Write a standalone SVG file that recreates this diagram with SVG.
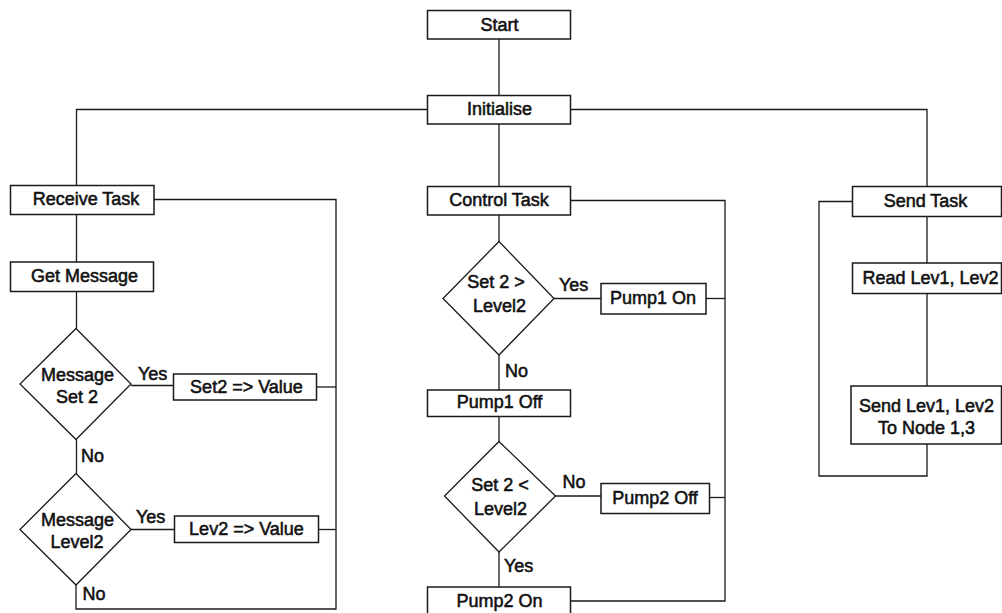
<svg xmlns="http://www.w3.org/2000/svg" width="1002" height="613" viewBox="0 0 1002 613">
  <style>
    .box { fill: #ffffff; stroke: #1a1a1a; stroke-width: 1.5; }
    .dec { fill: #ffffff; stroke: #1a1a1a; stroke-width: 1.3; }
    .wire { fill: none; stroke: #1a1a1a; stroke-width: 1.3; }
    text { font-family: "Liberation Sans", Arial, sans-serif; font-size: 18px; fill: #111111; stroke: #111111; stroke-width: 0.55; }
    .c { text-anchor: middle; }
  </style>
  <rect width="1002" height="613" fill="#ffffff"/>

  <!-- connectors -->
  <g id="connectors" class="wire">
    <!-- main trunk -->
    <path d="M499,39 V95.5"/>
    <path d="M499,124 V186"/>
    <path d="M427.5,109.5 H76.5 V186"/>
    <path d="M570.5,109.5 H927 V186.5"/>
    <!-- receive task -->
    <path d="M154,199.5 H336 V609 H76 V585"/>
    <path d="M76.5,214.5 V262"/>
    <path d="M76.5,291.5 V328.5"/>
    <path d="M131,385.5 H173.5"/>
    <path d="M316.5,387 H336"/>
    <path d="M76.5,439.5 V473.5"/>
    <path d="M131,529.5 H174.5"/>
    <path d="M318.5,529.5 H336"/>
    <!-- control task -->
    <path d="M570.5,200.5 H725 V601 H570.5"/>
    <path d="M499,215 V241.5"/>
    <path d="M554,298.5 H601"/>
    <path d="M706,298.5 H725"/>
    <path d="M499,355 V390"/>
    <path d="M499,416.5 V441.5"/>
    <path d="M555.5,496 H601"/>
    <path d="M709.5,497.5 H725"/>
    <path d="M499,552 V587"/>
    <!-- send task -->
    <path d="M852.5,201.5 H819 V476 H927 V444"/>
    <path d="M927,216.5 V263"/>
    <path d="M927,293.5 V386"/>
  </g>

  <!-- main trunk nodes -->
  <g id="start">
    <rect class="box" x="427.5" y="10.5" width="143" height="28.5"/>
    <text class="c" x="499.5" y="30.5">Start</text>
  </g>
  <g id="initialise">
    <rect class="box" x="427.5" y="95.5" width="143" height="28.5"/>
    <text class="c" x="499.5" y="115">Initialise</text>
  </g>

  <!-- receive task column -->
  <g id="receive-task">
    <rect class="box" x="10.5" y="185.5" width="143.5" height="29"/>
    <text class="c" x="86" y="205">Receive Task</text>
  </g>
  <g id="get-message">
    <rect class="box" x="10.5" y="262" width="143" height="29.5"/>
    <text class="c" x="84.5" y="281.5">Get Message</text>
  </g>
  <g id="msg-set2">
    <polygon class="dec" points="76,328.5 131,384 76,439.5 20,384"/>
    <text class="c" x="77.5" y="380.5">Message</text>
    <text class="c" x="77" y="402.5">Set 2</text>
  </g>
  <text x="138" y="380">Yes</text>
  <g id="set2-value">
    <rect class="box" x="173.5" y="374" width="143" height="26"/>
    <text class="c" x="246.5" y="393">Set2 =&gt; Value</text>
  </g>
  <text x="81" y="462">No</text>
  <g id="msg-level2">
    <polygon class="dec" points="76,473.5 131,529.5 76,585 20,529.5"/>
    <text class="c" x="77.5" y="526">Message</text>
    <text class="c" x="77" y="548">Level2</text>
  </g>
  <text x="136" y="523">Yes</text>
  <g id="lev2-value">
    <rect class="box" x="174.5" y="516" width="144" height="26.5"/>
    <text class="c" x="246.5" y="534.5">Lev2 =&gt; Value</text>
  </g>
  <text x="82.5" y="599.5">No</text>

  <!-- control task column -->
  <g id="control-task">
    <rect class="box" x="427.5" y="186.5" width="143" height="28.5"/>
    <text class="c" x="499" y="205.5">Control Task</text>
  </g>
  <g id="set2-gt-level2">
    <polygon class="dec" points="499,241.5 554,298.5 499,355 443,298.5"/>
    <text class="c" x="496" y="287.5">Set 2 &gt;</text>
    <text class="c" x="499.5" y="311.5">Level2</text>
  </g>
  <text x="559" y="290.5">Yes</text>
  <g id="pump1-on">
    <rect class="box" x="601" y="283.5" width="105" height="30.5"/>
    <text class="c" x="653" y="303.5">Pump1 On</text>
  </g>
  <text x="505" y="376.5">No</text>
  <g id="pump1-off">
    <rect class="box" x="427.5" y="390" width="143" height="26.5"/>
    <text class="c" x="499.5" y="407.5">Pump1 Off</text>
  </g>
  <g id="set2-lt-level2">
    <polygon class="dec" points="499,441.5 555.5,496 499,552 444.5,496"/>
    <text class="c" x="500" y="490.5">Set 2 &lt;</text>
    <text class="c" x="500.5" y="514.5">Level2</text>
  </g>
  <text x="562.5" y="487.5">No</text>
  <g id="pump2-off">
    <rect class="box" x="601" y="483.5" width="108.5" height="30"/>
    <text class="c" x="655" y="503.5">Pump2 Off</text>
  </g>
  <text x="504" y="571.5">Yes</text>
  <g id="pump2-on">
    <rect class="box" x="427.5" y="587" width="143" height="29"/>
    <text class="c" x="499.5" y="606.5">Pump2 On</text>
  </g>

  <!-- send task column -->
  <g id="send-task">
    <rect class="box" x="852.5" y="186.5" width="149" height="30"/>
    <text class="c" x="925.5" y="206.5">Send Task</text>
  </g>
  <g id="read-levels">
    <rect class="box" x="852.5" y="263" width="149" height="30.5"/>
    <text class="c" x="930.5" y="284">Read Lev1, Lev2</text>
  </g>
  <g id="send-levels">
    <rect class="box" x="851" y="386" width="150.5" height="58"/>
    <text class="c" x="926.5" y="411.5">Send Lev1, Lev2</text>
    <text class="c" x="926.5" y="433.5">To Node 1,3</text>
  </g>
</svg>
